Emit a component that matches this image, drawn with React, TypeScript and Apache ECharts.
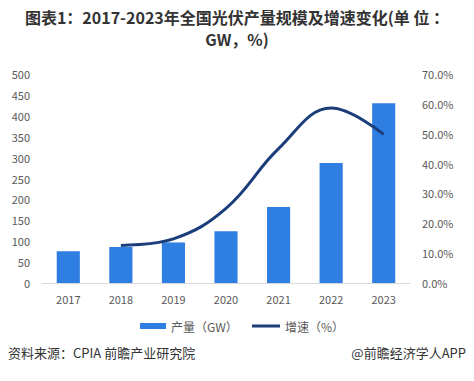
import React, { useEffect, useRef } from "react";
import * as echarts from "echarts";

const years = ["2017", "2018", "2019", "2020", "2021", "2022", "2023"];
const output = [76, 86, 97, 124, 182, 287, 430];
const growth = [null, 12.6, 14.8, 25.0, 45.0, 58.6, 49.8];
const leftTicks = [0, 50, 100, 150, 200, 250, 300, 350, 400, 450, 500];
const rightTicks = [0, 10, 20, 30, 40, 50, 60, 70];

const titleLine1 = "图表1：2017-2023年全国光伏产量规模及增速变化(单 位 ：";
const titleLine2 = "GW，%)";
const sourceText = "资料来源：CPIA 前瞻产业研究院";
const brandText = "@前瞻经济学人APP";

export default function App() {
  const ref = useRef<HTMLDivElement>(null);
  useEffect(() => {
    document.body.style.margin = "0";
    const chart = echarts.init(ref.current!, null, { renderer: "svg" });
    const font = "'Noto Sans CJK SC', 'Noto Sans', sans-serif";
    const legendText = { fontSize: 12, color: "#595959", fontFamily: font };
    const titleStyle = {
      fontSize: 16,
      fontWeight: "bold",
      color: "#333333",
      lineHeight: 18,
      fontFamily: font,
    };
    chart.setOption({
      animation: false,
      backgroundColor: "#ffffff",
      textStyle: { fontFamily: font },
      title: [
        { text: titleLine1, left: "center", top: 8, padding: 0, textStyle: titleStyle },
        { text: titleLine2, left: "center", top: 30, padding: 0, textStyle: titleStyle },
      ],
      grid: { left: 42, right: 64, top: 74, bottom: 98 },
      legend: [
        {
          left: 135,
          top: 315,
          itemWidth: 26,
          itemHeight: 6,
          itemGap: 2,
          textStyle: legendText,
          data: [{ name: "产量（GW）", icon: "rect" }],
        },
        {
          left: 247,
          top: 315,
          itemWidth: 28,
          itemHeight: 3,
          itemGap: 2,
          textStyle: legendText,
          data: [{ name: "增速（%）", icon: "rect" }],
        },
      ],
      xAxis: {
        type: "category",
        data: years,
        axisLine: { lineStyle: { color: "#d9d9d9" } },
        axisTick: { show: false },
        axisLabel: { color: "#595959", fontSize: 11, margin: 10 },
      },
      yAxis: [
        {
          type: "value",
          min: leftTicks[0],
          max: leftTicks[leftTicks.length - 1],
          interval: 50,
          splitLine: { show: false },
          axisLine: { show: false },
          axisTick: { show: false },
          axisLabel: { color: "#595959", fontSize: 11, margin: 12 },
        },
        {
          type: "value",
          min: rightTicks[0],
          max: rightTicks[rightTicks.length - 1],
          interval: 10,
          splitLine: { show: false },
          axisLine: { show: false },
          axisTick: { show: false },
          axisLabel: {
            color: "#595959",
            fontSize: 11,
            margin: 12,
            formatter: (v: number) => v.toFixed(1) + "%",
          },
        },
      ],
      series: [
        {
          name: "产量（GW）",
          type: "bar",
          data: output,
          barWidth: "44%",
          itemStyle: { color: "#2F7FE3" },
        },
        {
          name: "增速（%）",
          type: "line",
          yAxisIndex: 1,
          data: growth,
          smooth: 0.4,
          showSymbol: false,
          symbol: "none",
          lineStyle: { color: "#1B3E7A", width: 3 },
          itemStyle: { color: "#1B3E7A" },
        },
      ],
      graphic: [
        {
          type: "text",
          left: 8,
          top: 346,
          style: { text: sourceText, fontSize: 13, fill: "#333333", fontFamily: font },
        },
        {
          type: "text",
          right: 8,
          top: 346,
          style: { text: brandText, fontSize: 13, fill: "#333333", fontFamily: font },
        },
      ],
    });
    return () => chart.dispose();
  }, []);
  return (
    <div
      ref={ref}
      style={{ width: 474, height: 381, position: "absolute", left: 0, top: 0 }}
    />
  );
}
